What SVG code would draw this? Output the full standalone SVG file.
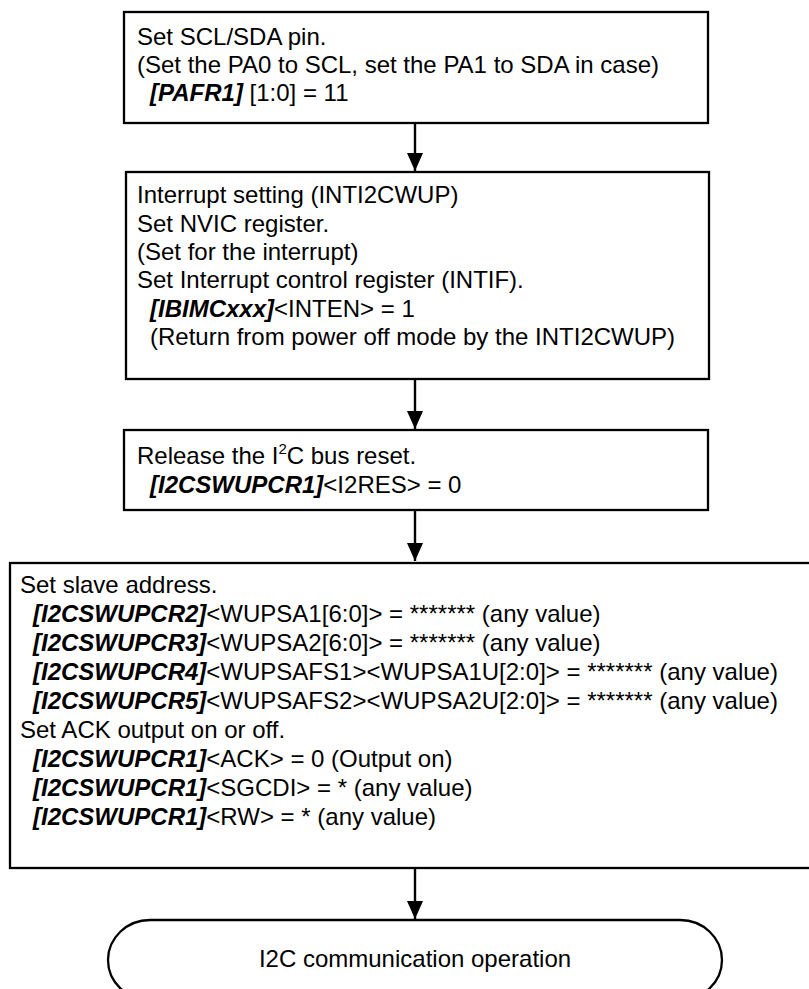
<svg xmlns="http://www.w3.org/2000/svg" width="809" height="989" viewBox="0 0 809 989">
  <style>
    .box { fill: #fff; stroke: #000; stroke-width: 2.3; }
    .t { font-family: "Liberation Sans", Arial, sans-serif; font-size: 24px; fill: #000; }
    .r { font-weight: bold; font-style: italic; }
    .link { stroke: #000; stroke-width: 2.4; fill: none; }
  </style>
  <defs>
    <marker id="arrow" markerUnits="userSpaceOnUse" markerWidth="18" markerHeight="16" refX="18" refY="8" orient="auto">
      <path d="M0,0 L18,8 L0,16 Z" fill="#000"/>
    </marker>
  </defs>

  <rect width="809" height="989" fill="#fff"/>

  <!-- step 1: pin function -->
  <g id="set-pins">
    <rect class="box" x="124" y="12" width="584" height="111"/>
    <text class="t" x="137" y="45">Set SCL/SDA pin.</text>
    <text class="t" x="137" y="73">(Set the PA0 to SCL, set the PA1 to SDA in case)</text>
    <text class="t" x="150" y="101"><tspan class="r">[PAFR1]</tspan> [1:0] = 11</text>
  </g>

  <!-- step 2: interrupt setup -->
  <g id="interrupt-setup">
    <rect class="box" x="126" y="172" width="583" height="207"/>
    <text class="t" x="137" y="203">Interrupt setting (INTI2CWUP)</text>
    <text class="t" x="137" y="232">Set NVIC register.</text>
    <text class="t" x="137" y="260">(Set for the interrupt)</text>
    <text class="t" x="137" y="288">Set Interrupt control register (INTIF).</text>
    <text class="t" x="150" y="317"><tspan class="r">[IBIMCxxx]</tspan>&lt;INTEN&gt; = 1</text>
    <text class="t" x="150" y="345">(Return from power off mode by the INTI2CWUP)</text>
  </g>

  <!-- step 3: bus reset release -->
  <g id="bus-reset">
    <rect class="box" x="124" y="430" width="584" height="80"/>
    <text class="t" x="137" y="464">Release the I<tspan font-size="15" dy="-10">2</tspan><tspan dy="10">C bus reset.</tspan></text>
    <text class="t" x="150" y="493"><tspan class="r">[I2CSWUPCR1]</tspan>&lt;I2RES&gt; = 0</text>
  </g>

  <!-- step 4: slave address and ACK -->
  <g id="slave-address">
    <rect class="box" x="10" y="563" width="812" height="305"/>
    <text class="t" x="20" y="593">Set slave address.</text>
    <text class="t" x="33" y="622"><tspan class="r">[I2CSWUPCR2]</tspan>&lt;WUPSA1[6:0]&gt; = ******* (any value)</text>
    <text class="t" x="33" y="651"><tspan class="r">[I2CSWUPCR3]</tspan>&lt;WUPSA2[6:0]&gt; = ******* (any value)</text>
    <text class="t" x="33" y="680"><tspan class="r">[I2CSWUPCR4]</tspan>&lt;WUPSAFS1&gt;&lt;WUPSA1U[2:0]&gt; = ******* (any value)</text>
    <text class="t" x="33" y="709"><tspan class="r">[I2CSWUPCR5]</tspan>&lt;WUPSAFS2&gt;&lt;WUPSA2U[2:0]&gt; = ******* (any value)</text>
    <text class="t" x="20" y="738">Set ACK output on or off.</text>
    <text class="t" x="33" y="767"><tspan class="r">[I2CSWUPCR1]</tspan>&lt;ACK&gt; = 0 (Output on)</text>
    <text class="t" x="33" y="796"><tspan class="r">[I2CSWUPCR1]</tspan>&lt;SGCDI&gt; = * (any value)</text>
    <text class="t" x="33" y="825"><tspan class="r">[I2CSWUPCR1]</tspan>&lt;RW&gt; = * (any value)</text>
  </g>

  <!-- terminal -->
  <g id="i2c-operation">
    <path class="box" d="M150,920 L680,920 A42,40 0 0 1 680,1000 L150,1000 A42,40 0 0 1 150,920 Z"/>
    <text class="t" x="415" y="967" text-anchor="middle">I2C communication operation</text>
  </g>

  <!-- connectors -->
  <g id="connectors">
    <line class="link" x1="415" y1="123" x2="415" y2="171" marker-end="url(#arrow)"/>
    <line class="link" x1="415" y1="379" x2="415" y2="429" marker-end="url(#arrow)"/>
    <line class="link" x1="415" y1="510" x2="415" y2="561" marker-end="url(#arrow)"/>
    <line class="link" x1="415" y1="868" x2="415" y2="919" marker-end="url(#arrow)"/>
  </g>
</svg>
